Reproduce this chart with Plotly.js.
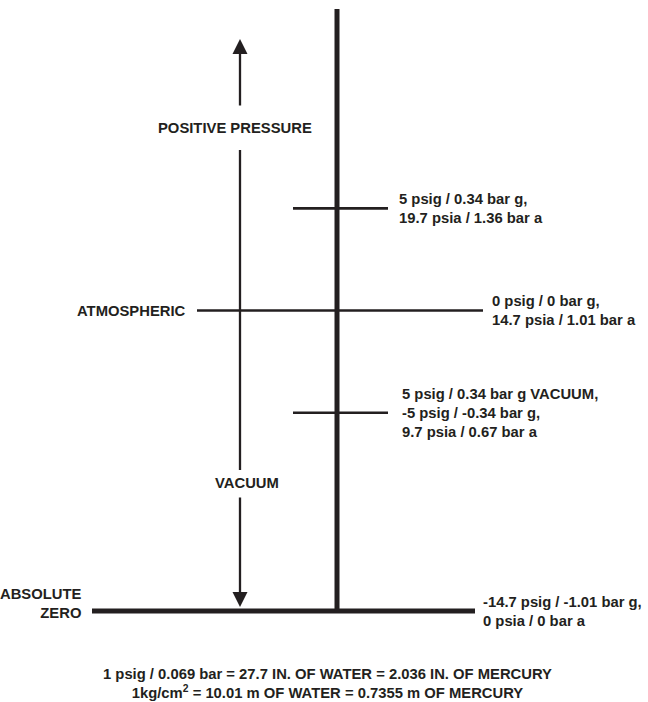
<!DOCTYPE html>
<html>
<head>
<meta charset="utf-8">
<script src="https://cdn.plot.ly/plotly-3.0.1.min.js"></script>
<style>html,body{margin:0;padding:0;background:#fff;}#chart{width:648px;height:702px;}</style>
</head>
<body>
<div id="chart"></div>
<script>
// ---- data ----
const levelNames = ["5 psig", "Atmospheric", "5 psig vacuum", "Absolute zero"];
const psia = [19.7, 14.7, 9.7, 0];
const psig = [5, 0, -5, -14.7];
const barG = [0.34, 0, -0.34, -1.01];
const barA = [1.36, 1.01, 0.67, 0];
const levelLabels = [
  "5 psig / 0.34 bar g,<br>19.7 psia / 1.36 bar a",
  "0 psig / 0 bar g,<br>14.7 psia / 1.01 bar a",
  "5 psig / 0.34 bar g VACUUM,<br>-5 psig / -0.34 bar g,<br>9.7 psia / 0.67 bar a",
  "-14.7 psig / -1.01 bar g,<br>0 psia / 0 bar a"
];
const leftLabels = ["", "ATMOSPHERIC", "", "ABSOLUTE<br>ZERO"];
const regionLabels = ["POSITIVE PRESSURE", "VACUUM"];
const footerLines = [
  "1 psig / 0.069 bar = 27.7 IN. OF WATER = 2.036 IN. OF MERCURY",
  "1kg/cm<sup>2</sup> = 10.01 m OF WATER = 0.7355 m OF MERCURY"
];

// ---- layout helpers (pixel geometry of the diagram) ----
const W = 648, H = 702;
const ZERO_PX = 611, PX_PER_PSI = 20.44;
function pxY(p) { return (ZERO_PX - p) / PX_PER_PSI; }
const INK = "#231f20";
const FONT = {family: "Liberation Sans Narrow, Arial Narrow, sans-serif", size: 14.8, color: INK, weight: "bold"};

const lineX = [[293, 388], [197, 483], [293, 388], [92, 475]];
const lineW = [2.6, 2.6, 2.6, 5];
const labelX = [397, 490, 400, 481];
const leftX = [0, 188, 0, 84];
const leftShift = [0, 0, 0, 8];

const traces = psia.map((v, i) => ({
  type: "scatter", mode: "lines",
  x: lineX[i], y: [v, v],
  line: {color: INK, width: lineW[i]},
  hoverinfo: "skip", name: levelNames[i]
}));

const shapes = [
  // main vertical axis
  {type: "line", xref: "x", yref: "y", x0: 337, x1: 337, y0: psia[3], y1: pxY(9),
   line: {color: INK, width: 5}},
  // arrow shaft (middle segment between the two labels)
  {type: "line", xref: "x", yref: "y", x0: 240, x1: 240, y0: pxY(150), y1: pxY(470),
   line: {color: INK, width: 2.3}}
];

const annotations = [];
psia.forEach((v, i) => {
  annotations.push({x: labelX[i], y: v, xref: "x", yref: "y", text: levelLabels[i],
    showarrow: false, xanchor: "left", yanchor: "middle", align: "left", font: FONT});
  if (leftLabels[i]) {
    annotations.push({x: leftX[i], y: v, xref: "x", yref: "y", text: leftLabels[i],
      showarrow: false, xanchor: "right", yanchor: "middle", align: "right",
      yshift: leftShift[i], font: FONT});
  }
});
annotations.push({x: 235, y: pxY(128), xref: "x", yref: "y", text: regionLabels[0],
  showarrow: false, xanchor: "center", yanchor: "middle", font: FONT});
annotations.push({x: 247, y: pxY(483), xref: "x", yref: "y", text: regionLabels[1],
  showarrow: false, xanchor: "center", yanchor: "middle", font: FONT});
// arrows
annotations.push({x: 240, y: pxY(39), ax: 240, ay: pxY(107), xref: "x", yref: "y",
  axref: "x", ayref: "y", text: "", showarrow: true, arrowhead: 2, arrowsize: 1.3,
  arrowwidth: 2.3, arrowcolor: INK, standoff: 0});
annotations.push({x: 240, y: pxY(607), ax: 240, ay: pxY(496), xref: "x", yref: "y",
  axref: "x", ayref: "y", text: "", showarrow: true, arrowhead: 2, arrowsize: 1.3,
  arrowwidth: 2.3, arrowcolor: INK, standoff: 0});
// footer
annotations.push({x: 327, y: pxY(683), xref: "x", yref: "y", text: footerLines.join("<br>"),
  showarrow: false, xanchor: "center", yanchor: "middle", align: "center", font: FONT});

const layout = {
  width: W, height: H,
  margin: {l: 0, r: 0, t: 0, b: 0, pad: 0},
  paper_bgcolor: "#ffffff", plot_bgcolor: "#ffffff",
  showlegend: false,
  xaxis: {range: [0, W], visible: false, fixedrange: true},
  yaxis: {range: [pxY(H), pxY(0)], visible: false, fixedrange: true},
  shapes: shapes,
  annotations: annotations
};

Plotly.newPlot("chart", traces, layout, {displayModeBar: false, staticPlot: true});
</script>
</body>
</html>
